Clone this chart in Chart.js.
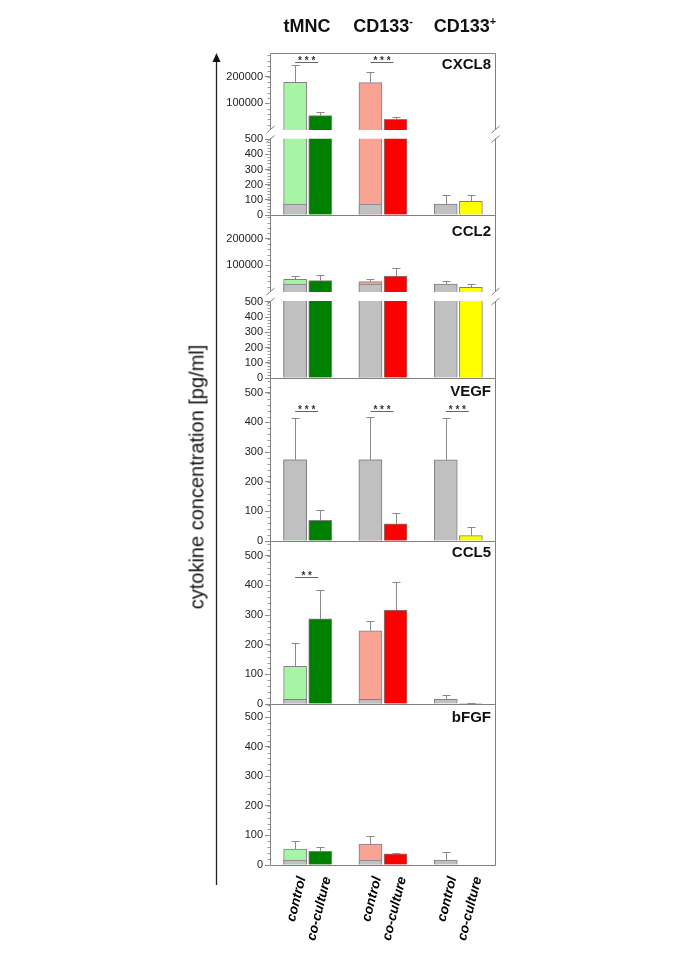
<!DOCTYPE html>
<html>
<head>
<meta charset="utf-8">
<script src="https://cdn.jsdelivr.net/npm/chart.js@4.4.1/dist/chart.umd.min.js"></script>
<style>
  html, body { margin: 0; padding: 0; background: #fff; }
  #wrap { position: relative; width: 685px; height: 969px; }
  #chart { display: block; }
  .head { position: absolute; top: 16px; font: bold 18px "Liberation Sans", Arial, sans-serif; color: #111;
          transform: translateX(-50%); white-space: nowrap; line-height: 20px; }
  .head sup { font-size: 11px; vertical-align: 7px; line-height: 0; }
  #ytitle { position: absolute; left: 197px; top: 477px; transform: translate(-50%, -50%) rotate(-90deg);
            font: 20px "Liberation Sans", Arial, sans-serif; color: #111; white-space: nowrap; }
</style>
</head>
<body>
<div id="wrap">
  <canvas id="chart" width="685" height="969"></canvas>
  <div class="head" style="left:307px">tMNC</div>
  <div class="head" style="left:383px">CD133<sup>-</sup></div>
  <div class="head" style="left:465px">CD133<sup>+</sup></div>
  <div id="ytitle">cytokine concentration [pg/ml]</div>
</div>
<script>
// x slots: empty slots keep the gaps between the three cell groups
const slotLabels = ['', 'control', 'co-culture', '', 'control', 'co-culture', '', 'control', 'co-culture', ''];
const barSlots = [1, 2, 4, 5, 7, 8];

// order: tMNC control, tMNC co-culture, CD133- control, CD133- co-culture, CD133+ control, CD133+ co-culture
const cxcl8 = [179000, 54000, 178000, 40000, 72, 90];
const cxcl8Err = [65000, 15000, 39000, 9000, 58, 40];
const ccl2 = [47500, 42500, 39000, 60000, 30000, 17500];
const ccl2Err = [11000, 21000, 10000, 29000, 10000, 11000];
const vegf = [274, 70, 274, 58, 274, 18];
const vegfErr = [142, 35, 146, 38, 142, 28];
const ccl5 = [127, 287, 247, 317, 16, 2];
const ccl5Err = [79, 97, 34, 96, 15, 2];
const bfgf = [54, 46, 71, 38, 17, 0];
const bfgfErr = [28, 15, 26, 2, 27, 0];

// grey part of the tMNC / CD133- control bars (CD133+ share)
const cxcl8Grey = [72, 72];
const ccl2Grey = [30000, 30000];
const vegfGrey = [274, 274];
const ccl5Grey = [16, 16];
const bfgfGrey = [17, 17];

// tick labels
const upperTicks = [100000, 200000];
const lowerTicks = [0, 100, 200, 300, 400, 500];

const barColors = ['#a6f5a6', '#008000', '#f9a394', '#ff0000', '#c0c0c0', '#ffff00'];
const greyColor = '#c0c0c0';

const panels = [
  { name: 'CXCL8', axes: ['y8u', 'y8g', 'y8l'], labelDy: 15 },
  { name: 'CCL2', axes: ['y2u', 'y2g', 'y2l'], labelDy: 20 },
  { name: 'VEGF', axes: ['yV'], labelDy: 17 },
  { name: 'CCL5', axes: ['y5'], labelDy: 15 },
  { name: 'bFGF', axes: ['yF'], labelDy: 17 }
];

// significance bars: axis, first slot of the pair, height on that axis
const sigMarks = [
  { axis: 'y8u', slot: 1, y: 257000, text: '* * *' },
  { axis: 'y8u', slot: 4, y: 257000, text: '* * *' },
  { axis: 'yV', slot: 1, y: 437, text: '* * *' },
  { axis: 'yV', slot: 4, y: 437, text: '* * *' },
  { axis: 'yV', slot: 7, y: 437, text: '* * *' },
  { axis: 'y5', slot: 1, y: 429, text: '* *' }
];

const minorSteps = { y8u: 20000, y8l: 20, y2u: 20000, y2l: 20, yV: 20, y5: 20, yF: 20 };

function toSlots(vals, floor) {
  const out = slotLabels.map(() => null);
  barSlots.forEach((s, i) => {
    if (vals[i] != null && vals[i] > floor) out[s] = vals[i];
  });
  return out;
}

// floor: values below it never reach this axis segment (upper part of a broken axis)
function segment(vals, errs, grey, axis, floor) {
  const g = slotLabels.map(() => null);
  if (grey[0] > floor) g[barSlots[0]] = grey[0];
  if (grey[1] > floor) g[barSlots[2]] = grey[1];
  return [
    { data: g, yAxisID: axis, backgroundColor: greyColor, borderColor: '#808080', borderWidth: 1,
      grouped: false, order: 0, barThickness: 23 },
    { data: toSlots(vals, floor), errorBars: toSlots(errs, -1), yAxisID: axis,
      backgroundColor: toSlots(barColors, ''), borderColor: '#808080', borderWidth: 1,
      grouped: false, order: 1, barThickness: 23 }
  ];
}

const datasets = [].concat(
  segment(cxcl8, cxcl8Err, cxcl8Grey, 'y8u', 505),
  segment(cxcl8, cxcl8Err, cxcl8Grey, 'y8l', -1),
  segment(ccl2, ccl2Err, ccl2Grey, 'y2u', 505),
  segment(ccl2, ccl2Err, ccl2Grey, 'y2l', -1),
  segment(vegf, vegfErr, vegfGrey, 'yV', -1),
  segment(ccl5, ccl5Err, ccl5Grey, 'y5', -1),
  segment(bfgf, bfgfErr, bfgfGrey, 'yF', -1)
);

const tickFont = { family: 'Liberation Sans', size: 11 };

function valueAxis(weight, stackWeight, max, tickValues) {
  return {
    type: 'linear', position: 'left', stack: 'panels', stackWeight: stackWeight, weight: weight,
    min: 0, max: max,
    afterFit: s => { s.width = 120; },
    afterBuildTicks: s => { s.ticks = tickValues.map(v => ({ value: v })); },
    border: { display: false },
    grid: { drawOnChartArea: false, drawTicks: true, tickLength: 5, color: '#8a8a8a' },
    ticks: { autoSkip: false, font: tickFont, color: '#222', padding: 2, callback: v => String(v) }
  };
}

function gapAxis(weight, stackWeight) {
  return {
    type: 'linear', position: 'left', stack: 'panels', stackWeight: stackWeight, weight: weight,
    min: 0, max: 1,
    afterFit: s => { s.width = 120; },
    border: { display: false }, grid: { display: false }, ticks: { display: false }
  };
}

const clipAndErrors = {
  id: 'clipAndErrors',
  beforeDatasetDraw(chart, args) {
    const ys = args.meta.yScale;
    const ctx = chart.ctx;
    ctx.save();
    ctx.beginPath();
    ctx.rect(chart.chartArea.left, ys.top, chart.chartArea.width, ys.bottom - ys.top);
    ctx.clip();
  },
  afterDatasetDraw(chart, args) {
    const ctx = chart.ctx;
    const ds = chart.data.datasets[args.index];
    const ys = args.meta.yScale;
    if (ds.errorBars) {
      ctx.strokeStyle = '#8a8a8a';
      ctx.lineWidth = 1;
      args.meta.data.forEach((bar, i) => {
        const v = ds.data[i], e = ds.errorBars[i];
        if (v == null || !e) return;
        const x = Math.round(bar.x) + 0.5;
        const y0 = ys.getPixelForValue(v);
        const y1 = Math.round(ys.getPixelForValue(v + e)) + 0.5;
        ctx.beginPath();
        ctx.moveTo(x, y0);
        ctx.lineTo(x, y1);
        ctx.moveTo(x - 4, y1);
        ctx.lineTo(x + 4, y1);
        ctx.stroke();
      });
    }
    ctx.restore();
  }
};

const decorations = {
  id: 'decorations',
  afterDraw(chart) {
    const ctx = chart.ctx;
    const area = chart.chartArea;
    const L = Math.round(area.left) + 0.5, R = Math.round(area.right) - 0.5;
    ctx.save();
    ctx.strokeStyle = '#9a9a9a';
    ctx.lineWidth = 1;

    // minor ticks
    Object.keys(minorSteps).forEach(id => {
      const s = chart.scales[id];
      for (let v = 0; v <= s.max; v += minorSteps[id]) {
        const y = Math.round(s.getPixelForValue(v)) + 0.5;
        if (y < s.top || y > s.bottom) continue;
        ctx.beginPath();
        ctx.moveTo(L - 3, y);
        ctx.lineTo(L, y);
        ctx.stroke();
      }
    });

    // panel frames
    ctx.strokeStyle = '#808080';
    panels.forEach(p => {
      const top = Math.round(chart.scales[p.axes[0]].top) + 0.5;
      const bottom = Math.round(chart.scales[p.axes[p.axes.length - 1]].bottom) + 0.5;
      ctx.beginPath();
      ctx.moveTo(L, top); ctx.lineTo(R, top);
      ctx.moveTo(L, bottom); ctx.lineTo(R, bottom);
      if (p.axes.length === 3) {
        const g = chart.scales[p.axes[1]];
        [L, R].forEach(x => {
          ctx.moveTo(x, top); ctx.lineTo(x, g.top);
          ctx.moveTo(x, g.bottom); ctx.lineTo(x, bottom);
          ctx.moveTo(x - 4, g.top + 3); ctx.lineTo(x + 4, g.top - 4);
          ctx.moveTo(x - 4, g.bottom + 4); ctx.lineTo(x + 4, g.bottom - 3);
        });
      } else {
        ctx.moveTo(L, top); ctx.lineTo(L, bottom);
        ctx.moveTo(R, top); ctx.lineTo(R, bottom);
      }
      ctx.stroke();

      ctx.fillStyle = '#111';
      ctx.font = 'bold 15px "Liberation Sans", Arial, sans-serif';
      ctx.textAlign = 'right';
      ctx.textBaseline = 'alphabetic';
      ctx.fillText(p.name, 491, top + p.labelDy);
    });

    // significance
    const xs = chart.scales.x;
    sigMarks.forEach(m => {
      const y = Math.round(chart.scales[m.axis].getPixelForValue(m.y)) + 0.5;
      const x1 = xs.getPixelForValue(m.slot), x2 = xs.getPixelForValue(m.slot + 1) - 2;
      ctx.strokeStyle = '#666';
      ctx.beginPath();
      ctx.moveTo(x1, y); ctx.lineTo(x2, y);
      ctx.stroke();
      ctx.fillStyle = '#333';
      ctx.font = 'bold 10px "Liberation Sans", Arial, sans-serif';
      ctx.textAlign = 'center';
      ctx.fillText(m.text, (x1 + x2) / 2, y + 1.5);
    });

    // vertical arrow
    ctx.strokeStyle = '#222';
    ctx.fillStyle = '#111';
    ctx.lineWidth = 1.3;
    ctx.beginPath();
    ctx.moveTo(216.5, 885);
    ctx.lineTo(216.5, 60);
    ctx.stroke();
    ctx.beginPath();
    ctx.moveTo(216.5, 53);
    ctx.lineTo(212.5, 62);
    ctx.lineTo(220.5, 62);
    ctx.closePath();
    ctx.fill();
    ctx.restore();
  }
};

new Chart(document.getElementById('chart').getContext('2d'), {
  type: 'bar',
  data: { labels: slotLabels, datasets: datasets },
  options: {
    responsive: false,
    animation: false,
    layout: { padding: { left: 150, right: 189, top: 53, bottom: 0 } },
    plugins: { legend: { display: false }, tooltip: { enabled: false } },
    scales: {
      x: {
        type: 'category', offset: false,
        afterFit: s => { s.height = 104; },
        grid: { display: false }, border: { display: false },
        ticks: {
          autoSkip: false, minRotation: 76, maxRotation: 76, padding: 2, labelOffset: 7, color: '#000',
          font: { family: 'Liberation Sans', size: 13.5, weight: 'bold', style: 'italic' }
        }
      },
      y8u: valueAxis(9, 77, 289000, upperTicks),
      y8g: gapAxis(8, 8.5),
      y8l: valueAxis(7, 76.5, 505, lowerTicks),
      y2u: valueAxis(6, 77, 289000, upperTicks),
      y2g: gapAxis(5, 9),
      y2l: valueAxis(4, 77, 505, lowerTicks),
      yV: valueAxis(3, 163, 550, lowerTicks),
      y5: valueAxis(2, 163, 550, lowerTicks),
      yF: valueAxis(1, 161, 544, lowerTicks)
    }
  },
  plugins: [clipAndErrors, decorations]
});
</script>
</body>
</html>
